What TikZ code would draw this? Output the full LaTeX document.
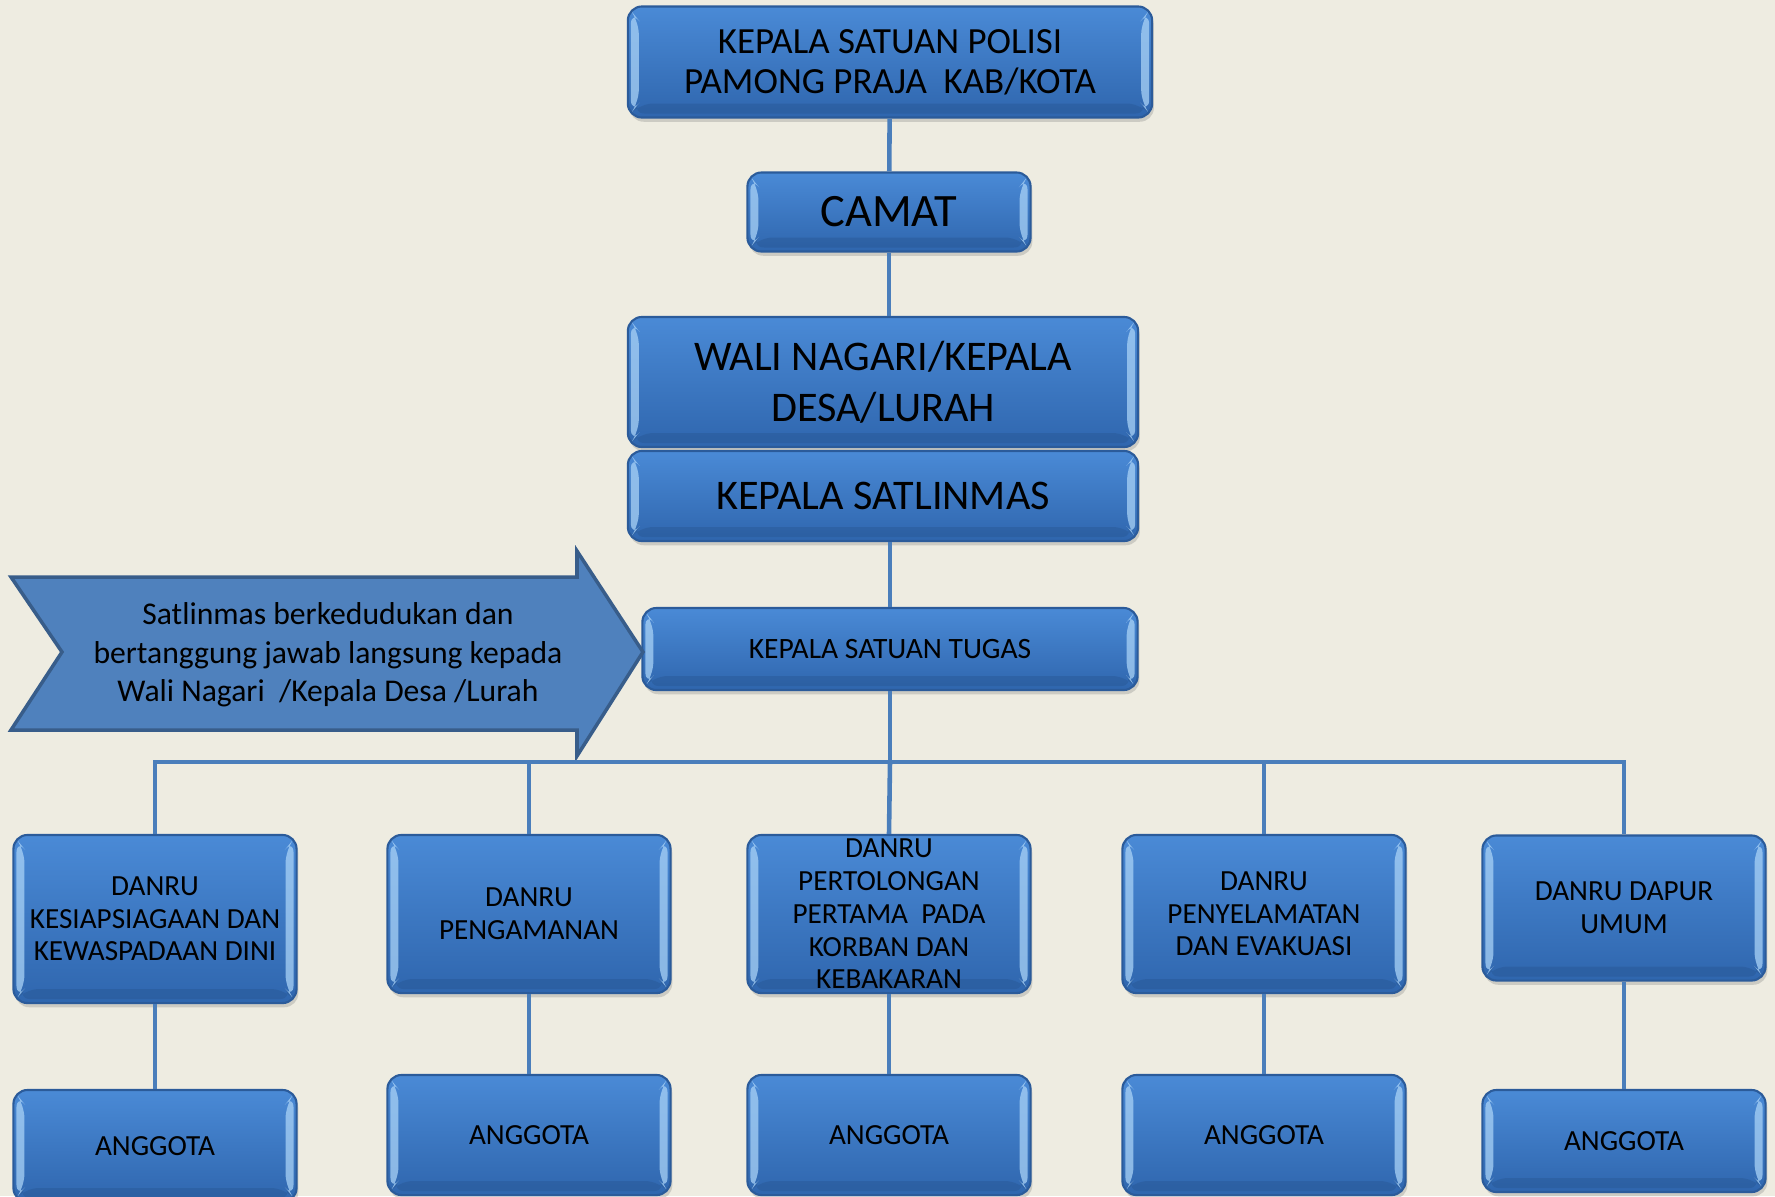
\documentclass[tikz,border=0pt]{standalone}
\usepackage{fontspec}
\setmainfont{Carlito}
\usetikzlibrary{shadows}

\definecolor{bg}{HTML}{EEECE1}
\definecolor{boxtop}{HTML}{4A8AD6}
\definecolor{boxbot}{HTML}{2F66AE}
\definecolor{boxedge}{HTML}{2B5B9A}
\definecolor{bevlight}{HTML}{A9D2F6}
\definecolor{linkblue}{HTML}{4A7EBB}
\definecolor{arrowfill}{HTML}{4F81BD}
\definecolor{arrowedge}{HTML}{385D8A}

\begin{document}
\begin{tikzpicture}[x=0.01cm, y=-0.01cm,
    unit/.style={rectangle, rounded corners=4pt, draw=boxedge, line width=0.6pt,
        top color=boxtop, bottom color=boxbot, align=center, text=black,
        drop shadow={opacity=0.3, shadow xshift=0.5pt, shadow yshift=-1.2pt},
        path picture={
            \fill[bevlight, opacity=0.75] ([shift={(3,4)}]path picture bounding box.north west) -- ++(8,10)
                -- ([shift={(11,-14)}]path picture bounding box.south west) -- ([shift={(3,-4)}]path picture bounding box.south west) -- cycle;
            \fill[bevlight, opacity=0.75] ([shift={(-3,4)}]path picture bounding box.north east) -- ++(-8,10)
                -- ([shift={(-11,-14)}]path picture bounding box.south east) -- ([shift={(-3,-4)}]path picture bounding box.south east) -- cycle;
            \fill[boxbot!80!black, opacity=0.35] ([shift={(3,-4)}]path picture bounding box.south west) -- ++(8,-10)
                -- ([shift={(-11,-14)}]path picture bounding box.south east) -- ([shift={(-3,-4)}]path picture bounding box.south east) -- cycle;
        }},
    danru/.style={unit, minimum width=2.83cm, font=\fontsize{8.3}{9.3}\selectfont},
    link/.style={draw=linkblue, line width=1.3pt}]

    \useasboundingbox (0,0) rectangle (1775,1196);
    \clip (0,0) rectangle (1775,1196);
    \fill[bg] (0,0) rectangle (1775,1196);

    % pimpinan
    \node[unit, minimum width=5.24cm, minimum height=1.11cm, font=\fontsize{10.5}{11.4}\selectfont] (kasat) at (890,62) {KEPALA SATUAN POLISI\\PAMONG PRAJA~~KAB/KOTA};
    \node[unit, minimum width=2.83cm, minimum height=0.79cm, font=\fontsize{13.2}{15}\selectfont] (camat) at (889,212) {CAMAT};
    \node[unit, minimum width=5.10cm, minimum height=1.30cm, font=\fontsize{12}{14.5}\selectfont] (wali) at (883,382) {WALI NAGARI/KEPALA\\DESA/LURAH};
    \node[unit, minimum width=5.10cm, minimum height=0.90cm, font=\fontsize{12}{14.5}\selectfont] (satlinmas) at (883,496) {KEPALA SATLINMAS};
    \node[unit, minimum width=4.95cm, minimum height=0.82cm, font=\fontsize{8.4}{10}\selectfont] (kst) at (890,649) {KEPALA SATUAN TUGAS};

    % keterangan
    \draw[fill=arrowfill, draw=arrowedge, line width=1pt, line join=miter]
        (11,577) -- (577,577) -- (577,551) -- (643,652) -- (577,756) -- (577,730) -- (11,730) -- (62,652) -- cycle;
    \node[align=center, font=\fontsize{9}{11}\selectfont] (note) at (328,655) {Satlinmas berkedudukan dan\\bertanggung jawab langsung kepada\\Wali Nagari~~/Kepala Desa /Lurah};

    % regu
    \node[danru, minimum height=1.68cm] (d1) at (155,919) {DANRU\\KESIAPSIAGAAN DAN\\KEWASPADAAN DINI};
    \node[danru, minimum height=1.58cm] (d2) at (529,914) {DANRU\\PENGAMANAN};
    \node[danru, minimum height=1.58cm, inner ysep=-6pt] (d3) at (889,914) {DANRU\\PERTOLONGAN\\PERTAMA~~PADA\\KORBAN DAN\\KEBAKARAN};
    \node[danru, minimum height=1.58cm] (d4) at (1264,914) {DANRU\\PENYELAMATAN\\DAN EVAKUASI};
    \node[danru, minimum height=1.45cm] (d5) at (1624,908) {DANRU DAPUR\\UMUM};

    \node[danru, minimum height=1.12cm] (a1) at (155,1146) {ANGGOTA};
    \node[danru, minimum height=1.20cm] (a2) at (529,1135) {ANGGOTA};
    \node[danru, minimum height=1.20cm] (a3) at (889,1135) {ANGGOTA};
    \node[danru, minimum height=1.20cm] (a4) at (1264,1135) {ANGGOTA};
    \node[danru, minimum height=1.02cm] (a5) at (1624,1141) {ANGGOTA};

    \coordinate (bus) at (890,762);

    \draw[link] (kasat) -- (camat);
    \draw[link] (camat) -- (camat |- wali.north);
    \draw[link] (kst.north) -- (kst.north |- satlinmas.south);
    \draw[link] (kst) -- (bus);
    \draw[link] (bus) -| (d1.north);
    \draw[link] (bus) -| (d2.north);
    \draw[link] (bus) -- (d3.north);
    \draw[link] (bus) -| (d4.north);
    \draw[link] (bus) -| (d5.north);
    \draw[link] (d1) -- (a1);
    \draw[link] (d2) -- (a2);
    \draw[link] (d3) -- (a3);
    \draw[link] (d4) -- (a4);
    \draw[link] (d5) -- (a5);
\end{tikzpicture}
\end{document}
